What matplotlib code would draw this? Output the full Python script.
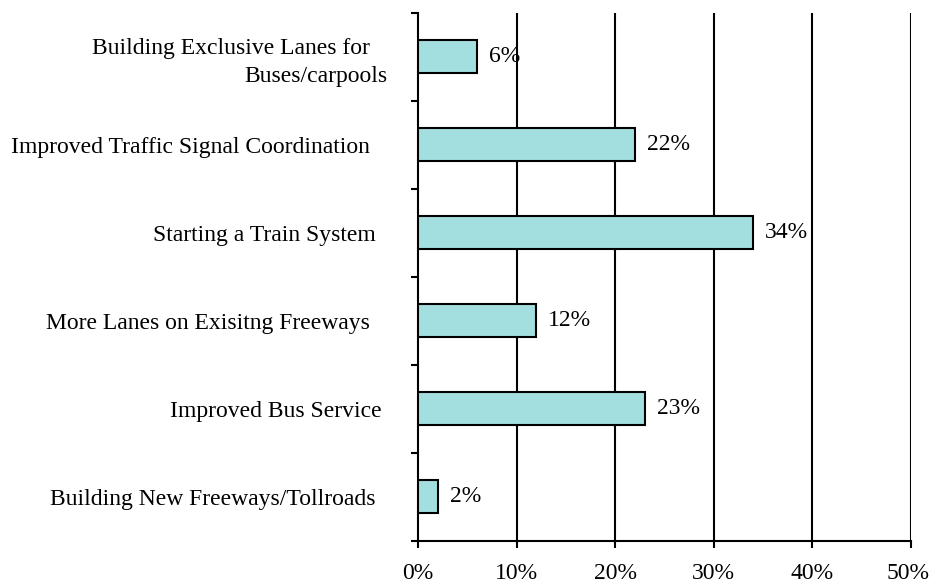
import matplotlib.pyplot as plt
import matplotlib.transforms as mtransforms
import numpy as np

categories = [
    "Building Exclusive Lanes for   \nBuses/carpools",
    "Improved Traffic Signal Coordination   ",
    "Starting a Train System  ",
    "More Lanes on Exisitng Freeways   ",
    "Improved Bus Service ",
    "Building New Freeways/Tollroads  ",
]
values = [6, 22, 34, 12, 23, 2]
x_ticks = [0, 10, 20, 30, 40, 50]
x_tick_labels = ["0%", "10%", "20%", "30%", "40%", "50%"]

plt.rcParams["font.family"] = ["Liberation Serif", "DejaVu Serif"]

fig = plt.figure(figsize=(9.3, 5.87), dpi=100)
ax = fig.add_axes([418 / 930, 1 - 540.5 / 587, (911 - 418) / 930, (540.5 - 12.5) / 587])

n = len(categories)
ypos = np.arange(n)[::-1]  # первая категория сверху

# вертикальная сетка
for xt in x_ticks[1:]:
    ax.axvline(xt, color="black", linewidth=1.5, zorder=1)

ax.barh(ypos, values, height=0.38, color="#a4dfdf", edgecolor="black",
        linewidth=1.5, zorder=3)

for y, v in zip(ypos, values):
    ax.annotate(f"{v}%", (v, y), textcoords="offset points", xytext=(8.5, 0),
                ha="left", va="center", fontsize=17, zorder=4)

ax.set_xlim(0, 50)
ax.set_ylim(-0.5, n - 0.5)

ax.set_xticks(x_ticks)
ax.set_xticklabels(x_tick_labels, fontsize=17)
ax.tick_params(axis="x", direction="out", length=5, width=1.5, pad=11)

# последняя подпись упирается в край — чуть сдвигаем влево
last = ax.get_xticklabels()[-1]
last.set_transform(last.get_transform() +
                   mtransforms.ScaledTranslation(-3 / 100, 0, fig.dpi_scale_trans))

# подписи категорий по центрам, засечки по границам
ax.set_yticks(ypos)
ax.set_yticklabels(categories, fontsize=17, multialignment="right", linespacing=1.45)
ax.set_yticks(np.arange(-0.5, n, 1.0), minor=True)
ax.tick_params(axis="y", which="major", length=0, pad=22)
ax.tick_params(axis="y", which="minor", direction="out", length=5, width=1.5)

for side in ["top", "right"]:
    ax.spines[side].set_visible(False)
for side in ["left", "bottom"]:
    ax.spines[side].set_linewidth(1.5)

fig.savefig("out.png", dpi=100)
